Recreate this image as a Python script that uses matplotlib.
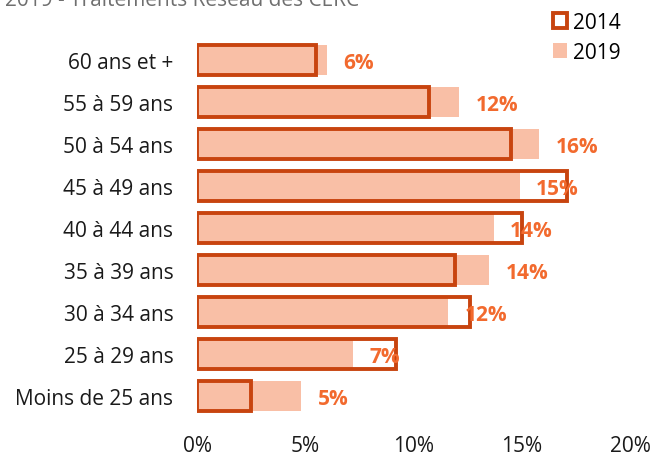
# Répartition par tranche d'âge - 2014 vs 2019
import matplotlib
matplotlib.use("Agg")
import matplotlib.pyplot as plt

plt.rcParams['font.family'] = ['Open Sans', 'DejaVu Sans']

# données
categories = ["60 ans et +", "55 à 59 ans", "50 à 54 ans", "45 à 49 ans",
              "40 à 44 ans", "35 à 39 ans", "30 à 34 ans", "25 à 29 ans",
              "Moins de 25 ans"]
val_2019 = [6.0, 12.1, 15.8, 14.9, 13.7, 13.5, 11.6, 7.2, 4.8]
val_2014 = [5.5, 10.7, 14.5, 17.1, 15.0, 11.9, 12.6, 9.2, 2.5]
labels_2019 = ["6%", "12%", "16%", "15%", "14%", "14%", "12%", "7%", "5%"]
xticks = [0, 5, 10, 15, 20]

fill_col = "#F9BFA6"
edge_col = "#C8440F"
lab_col = "#F26A2E"
fs = 15

fig = plt.figure(figsize=(6.55, 4.56), dpi=100)
ax = fig.add_axes([0.3008, 0.0833, 0.661, 0.829])

y = list(range(len(categories)))
b19 = ax.barh(y, val_2019, height=0.7, color=fill_col, label="2019", zorder=2)
b14 = ax.barh(y, val_2014, height=0.7, facecolor="none", edgecolor=edge_col,
              linewidth=2.8, label="2014", zorder=3)

for yi, v, lab in zip(y, val_2019, labels_2019):
    ax.annotate(lab, (v, yi), xytext=(12, -1.5), textcoords="offset points",
                ha="left", va="center", fontsize=fs, fontweight="bold",
                color=lab_col, zorder=4)

ax.set_xlim(0, 20)
ax.set_ylim(len(categories) - 0.5, -0.5)
ax.set_yticks(y)
ax.set_yticklabels(categories)
ax.set_xticks(xticks)
ax.set_xticklabels([f"{t}%" for t in xticks])
ax.tick_params(axis="y", length=0, pad=17, labelsize=fs, colors="#1a1a1a")
ax.tick_params(axis="x", length=0, pad=13, labelsize=fs, colors="#1a1a1a")
for s in ax.spines.values():
    s.set_visible(False)

fig.legend(handles=[b14, b19], labels=["2014", "2019"], loc="upper left",
           bbox_to_anchor=(0.828, 0.995), frameon=False, fontsize=fs,
           handlelength=0.7, handleheight=0.7, handletextpad=0.25,
           labelspacing=0.45, borderpad=0)

# titre coupé en haut de l'image
fig.text(0.008, 1 - 6 / 456, "2019 - Traitements Réseau des CERC",
         fontsize=fs, color="#6f6f6f", va="baseline", ha="left")

plt.savefig("out.png", dpi=100)
